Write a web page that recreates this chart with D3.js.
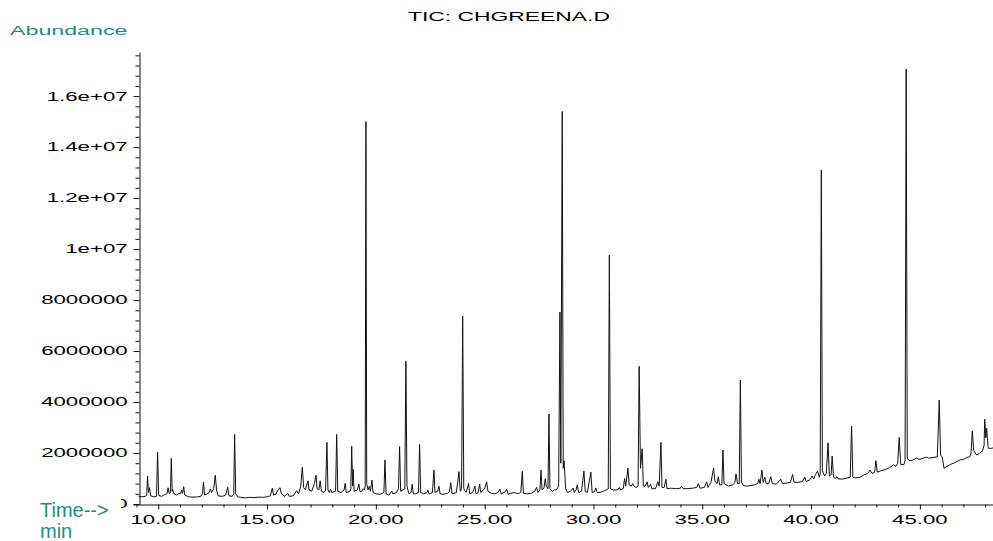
<!DOCTYPE html>
<html>
<head>
<meta charset="utf-8">
<script src="https://cdn.jsdelivr.net/npm/d3@7"></script>
<style>
  html, body { margin: 0; padding: 0; background: #fff; }
  svg { display: block; }
</style>
</head>
<body>
<svg id="chart" width="993" height="541"></svg>
<script>
// ---- chart content ----
const chartTitle = "TIC: CHGREENA.D";
const yAxisTitle = "Abundance";
const xAxisTitleLines = ["Time-->", "min"];

const yTickValues = [0, 2e6, 4e6, 6e6, 8e6, 1e7, 1.2e7, 1.4e7, 1.6e7];
const yTickLabels = ["0", "2000000", "4000000", "6000000", "8000000", "1e+07", "1.2e+07", "1.4e+07", "1.6e+07"];
const xTickValues = [10, 15, 20, 25, 30, 35, 40, 45];
const xTickLabels = ["10.00", "15.00", "20.00", "25.00", "30.00", "35.00", "40.00", "45.00"];

// abundance values below are in millions of counts
const abundanceUnit = 1e6;

// total ion chromatogram: [retention time (min), abundance (millions)]
const ticTrace = [
  [9.10,0.30],[9.25,0.28],[9.40,0.30],[9.47,0.34],[9.51,1.10],[9.55,0.45],[9.60,0.64],[9.65,0.32],
  [9.80,0.28],[9.92,0.30],[9.97,2.03],[10.02,0.34],[10.15,0.30],[10.28,0.36],[10.40,0.40],[10.45,0.64],
  [10.50,0.42],[10.56,0.45],[10.60,1.79],[10.64,0.50],[10.66,0.57],[10.72,0.40],[10.85,0.35],[10.95,0.42],
  [11.03,0.40],[11.08,0.55],[11.12,0.42],[11.17,0.68],[11.22,0.35],[11.40,0.28],[11.60,0.27],[11.80,0.28],
  [11.95,0.30],[12.03,0.40],[12.08,0.86],[12.13,0.35],[12.25,0.40],[12.34,0.45],[12.39,0.59],[12.45,0.45],
  [12.55,0.60],[12.62,1.13],[12.68,0.55],[12.75,0.32],[12.95,0.30],[13.10,0.35],[13.19,0.66],[13.25,0.32],
  [13.40,0.30],[13.47,0.40],[13.51,2.73],[13.56,0.40],[13.65,0.28],
  [13.80,0.26],[14.00,0.24],[14.20,0.26],[14.40,0.25],[14.60,0.27],[14.80,0.26],[15.00,0.28],[15.15,0.32],
  [15.24,0.62],[15.30,0.35],[15.40,0.38],[15.50,0.55],[15.59,0.64],[15.66,0.40],[15.80,0.30],[15.95,0.42],
  [16.02,0.30],[16.20,0.32],[16.36,0.52],[16.45,0.40],[16.55,0.70],[16.62,1.44],[16.68,0.65],[16.76,0.55],
  [16.88,0.91],[16.93,0.55],[17.05,0.50],[17.18,0.80],[17.25,1.13],[17.30,0.60],[17.38,0.55],[17.44,0.91],
  [17.50,0.50],[17.62,0.45],[17.69,0.55],[17.75,2.42],[17.80,0.55],[17.86,0.45],[17.92,0.59],[17.97,0.45],
  [18.08,0.48],[18.15,0.50],[18.20,2.73],[18.25,0.50],[18.40,0.45],[18.54,0.55],[18.59,0.81],[18.64,0.45],
  [18.80,0.50],[18.85,0.60],[18.89,2.26],[18.93,0.70],[18.96,1.36],[19.00,0.50],[19.15,0.55],[19.22,0.78],
  [19.27,0.48],[19.36,0.50],[19.42,0.60],[19.47,0.55],[19.51,0.70],[19.545,15.0],[19.58,0.80],[19.64,0.55],
  [19.70,0.70],[19.75,0.50],[19.82,0.94],[19.87,0.45],[20.00,0.40],[20.20,0.38],[20.37,0.45],[20.42,1.73],
  [20.47,0.40],[20.60,0.35],[20.73,0.50],[20.78,0.40],[20.95,0.45],[21.04,0.60],[21.09,2.25],[21.14,0.50],
  [21.25,0.55],[21.33,0.60],[21.38,5.60],[21.43,0.70],[21.52,0.40],[21.62,0.45],[21.67,0.77],[21.72,0.40],
  [21.82,0.40],[21.96,0.45],[22.01,2.34],[22.06,0.45],[22.20,0.40],[22.35,0.45],[22.39,0.55],[22.45,0.40],
  [22.60,0.45],[22.67,1.33],[22.72,0.45],[22.84,0.50],[22.90,0.70],[22.95,0.40],[23.10,0.38],[23.30,0.42],
  [23.38,0.48],[23.44,0.84],[23.50,0.40],[23.70,0.45],[23.82,1.27],[23.88,0.50],[23.94,0.60],[23.99,7.37],
  [24.04,0.60],[24.15,0.45],[24.26,0.81],[24.31,0.40],[24.45,0.45],[24.55,0.70],[24.60,0.40],[24.70,0.45],
  [24.77,0.78],[24.82,0.45],[25.00,0.60],[25.09,0.87],[25.15,0.50],[25.30,0.42],[25.45,0.40],[25.62,0.45],
  [25.70,0.58],[25.76,0.40],[25.95,0.48],[26.01,0.58],[26.08,0.38],[26.20,0.42],[26.35,0.45],[26.55,0.40],
  [26.66,0.45],[26.73,1.28],[26.78,0.42],[26.95,0.40],[27.15,0.42],[27.30,0.50],[27.39,0.65],[27.45,0.45],
  [27.54,0.55],[27.59,1.33],[27.64,0.55],[27.73,0.65],[27.785,0.99],[27.83,0.70],[27.91,0.60],[27.955,3.53],
  [28.00,0.60],[28.10,0.50],[28.20,0.55],[28.30,0.55],[28.40,0.70],[28.46,7.53],[28.50,1.60],[28.565,15.4],
  [28.61,1.40],[28.65,1.69],[28.72,0.60],[28.80,0.45],[28.95,0.50],[29.07,0.63],[29.12,0.45],[29.20,0.55],
  [29.255,0.75],[29.32,0.45],[29.45,0.50],[29.56,1.29],[29.62,0.50],[29.72,0.45],[29.88,1.25],[29.94,0.45],
  [30.05,0.48],[30.11,0.63],[30.17,0.45],[30.30,0.45],[30.45,0.50],[30.58,0.55],[30.68,0.60],[30.73,9.76],
  [30.78,0.60],[30.90,0.55],[31.10,0.55],[31.19,0.65],[31.25,0.55],[31.37,0.60],[31.43,1.00],[31.48,0.70],
  [31.585,1.41],[31.64,0.75],[31.74,0.70],[31.80,0.80],[31.86,0.70],[31.95,0.65],[32.05,0.70],[32.10,5.40],
  [32.16,1.40],[32.24,2.17],[32.29,0.70],[32.38,0.70],[32.47,0.87],[32.52,0.65],[32.63,0.77],[32.68,0.60],
  [32.85,0.60],[32.96,0.87],[33.02,0.70],[33.10,2.42],[33.15,0.65],[33.25,0.65],[33.33,0.97],[33.38,0.60],
  [33.55,0.62],[33.80,0.60],[34.00,0.62],[34.05,0.70],[34.12,0.60],[34.30,0.60],[34.55,0.62],[34.75,0.65],
  [34.82,0.80],[34.90,0.62],[35.10,0.65],[35.20,0.87],[35.26,0.65],[35.40,0.85],[35.52,1.41],[35.58,0.90],
  [35.68,0.80],[35.735,1.07],[35.80,0.75],[35.90,0.75],[35.95,2.12],[36.00,0.80],[36.20,0.70],[36.40,0.75],
  [36.50,0.85],[36.55,1.18],[36.62,0.80],[36.70,0.80],[36.75,4.86],[36.80,0.85],[36.90,0.72],[37.05,0.70],
  [37.20,0.72],[37.40,0.75],[37.55,0.80],[37.60,0.97],[37.66,0.80],[37.74,1.33],[37.80,0.85],[37.88,1.05],
  [37.94,0.80],[38.05,0.80],[38.15,1.07],[38.22,0.80],[38.40,0.78],[38.61,0.97],[38.68,0.80],[38.85,0.82],
  [39.05,0.85],[39.15,1.16],[39.22,0.85],[39.40,0.85],[39.60,0.88],[39.71,1.05],[39.78,0.88],
  [39.95,0.95],[40.05,1.10],[40.12,0.98],[40.20,1.15],[40.30,1.29],[40.38,1.05],[40.42,1.20],[40.47,13.1],
  [40.52,1.30],[40.62,1.10],[40.70,1.20],[40.78,2.40],[40.84,1.10],[40.92,1.15],[40.97,1.88],[41.03,1.05],
  [41.12,1.00],[41.18,1.07],[41.25,0.98],[41.45,0.98],[41.65,1.02],[41.80,1.05],[41.86,3.06],[41.92,1.05],
  [42.05,1.02],[42.25,1.05],[42.45,1.15],[42.60,1.20],[42.71,1.33],[42.80,1.20],[42.92,1.25],[42.98,1.70],
  [43.04,1.25],[43.20,1.30],[43.40,1.35],[43.60,1.42],[43.78,1.53],[43.90,1.48],[43.98,1.60],[44.05,2.61],
  [44.12,1.55],[44.27,1.55],[44.32,1.70],[44.37,17.06],[44.42,1.80],[44.50,1.70],[44.65,1.72],[44.85,1.80],
  [44.95,1.75],[45.10,1.78],[45.31,1.84],[45.40,1.80],[45.60,1.82],[45.80,1.85],[45.89,4.08],[45.95,1.90],
  [46.02,1.86],[46.11,1.40],[46.20,1.45],[46.40,1.55],[46.60,1.62],[46.84,1.73],[47.00,1.75],[47.15,1.82],
  [47.30,1.86],[47.35,2.00],[47.41,2.87],[47.47,2.10],[47.61,1.92],[47.75,2.00],[47.885,2.09],[47.95,2.30],
  [47.98,3.33],[48.03,2.60],[48.07,2.97],[48.14,2.19],[48.25,2.18],[48.36,2.20]
];

// ---- layout ----
const svg = d3.select("#chart");
const teal = "#1f8c8a";
const inkColor = "#111";
const fontFamily = "'Liberation Sans', Arial, Helvetica, sans-serif";
// the plotter font is a widened sans; widen glyphs horizontally
const labelStretch = 1.78;

const x = d3.scaleLinear().domain([8.84, 48.36]).range([133, 993]);
const y = d3.scaleLinear().domain([0, 17.73e6]).range([504, 52]);
const yAxisX = 139.5;
const xAxisY = 504.5;

// x axis: major ticks every 5 min, minor every minute
const xMinor = d3.range(9, 49, 1).filter(v => v % 5 !== 0);
svg.append("g")
  .attr("transform", `translate(0,${xAxisY})`)
  .call(d3.axisBottom(x).tickValues(xMinor).tickSize(3).tickSizeOuter(0).tickFormat(""))
  .call(g => g.selectAll("line,path").attr("stroke", inkColor));
svg.append("g")
  .attr("transform", `translate(0,${xAxisY})`)
  .call(d3.axisBottom(x).tickValues(xTickValues).tickSize(5).tickSizeOuter(0).tickFormat(""))
  .call(g => g.select(".domain").remove())
  .call(g => g.selectAll("line").attr("stroke", inkColor));

// y axis: major ticks every 2e6, minor every 4e5
const yMinor = d3.range(0, 17.7e6, 4e5).filter(v => Math.round(v / 4e5) % 5 !== 0);
svg.append("g")
  .attr("transform", `translate(${yAxisX},0)`)
  .call(d3.axisLeft(y).tickValues(yMinor).tickSize(4).tickSizeOuter(0).tickFormat(""))
  .call(g => g.selectAll("line,path").attr("stroke", inkColor));
svg.append("g")
  .attr("transform", `translate(${yAxisX},0)`)
  .call(d3.axisLeft(y).tickValues(yTickValues).tickSize(6).tickSizeOuter(0).tickFormat(""))
  .call(g => g.select(".domain").remove())
  .call(g => g.selectAll("line").attr("stroke", inkColor));

// stretched text helper
function stretchedText(parent, tx, ty, str, opts) {
  const o = Object.assign({ size: 12.5, anchor: "start", stretch: labelStretch, fill: "#000" }, opts || {});
  return parent.append("text")
    .attr("transform", `translate(${tx},${ty}) scale(${o.stretch},1)`)
    .attr("text-anchor", o.anchor)
    .attr("font-family", fontFamily)
    .attr("font-size", o.size)
    .attr("fill", o.fill)
    .text(str);
}

// y tick labels
const yLabelGroup = svg.append("g");
yTickValues.forEach((v, i) => {
  stretchedText(yLabelGroup, 127.7, y(v) + 4.4, yTickLabels[i], { anchor: "end" });
});

// x tick labels
const xLabelGroup = svg.append("g");
xTickValues.forEach((v, i) => {
  stretchedText(xLabelGroup, x(v), 523.5, xTickLabels[i], { anchor: "middle" });
});

// chromatogram trace
const line = d3.line()
  .x(d => x(d[0]))
  .y(d => y(d[1] * abundanceUnit));
svg.append("path")
  .datum(ticTrace)
  .attr("fill", "none")
  .attr("stroke", inkColor)
  .attr("stroke-width", 1)
  .attr("stroke-linejoin", "round")
  .attr("d", line);

// title and axis captions
stretchedText(svg, 509, 21, chartTitle, { anchor: "middle", stretch: 1.83 });
stretchedText(svg, 10, 35, yAxisTitle, { size: 13.5, stretch: 1.72, fill: teal });

// caption box for the time axis sits over the lower-left corner
svg.append("rect")
  .attr("x", 36).attr("y", 497).attr("width", 85).attr("height", 44)
  .attr("fill", "#fff");
svg.append("text")
  .attr("font-family", fontFamily)
  .attr("font-size", 20)
  .attr("fill", teal)
  .selectAll("tspan")
  .data(xAxisTitleLines)
  .join("tspan")
  .attr("x", 40)
  .attr("y", (d, i) => 516.5 + i * 21.5)
  .text(d => d);
</script>
</body>
</html>
